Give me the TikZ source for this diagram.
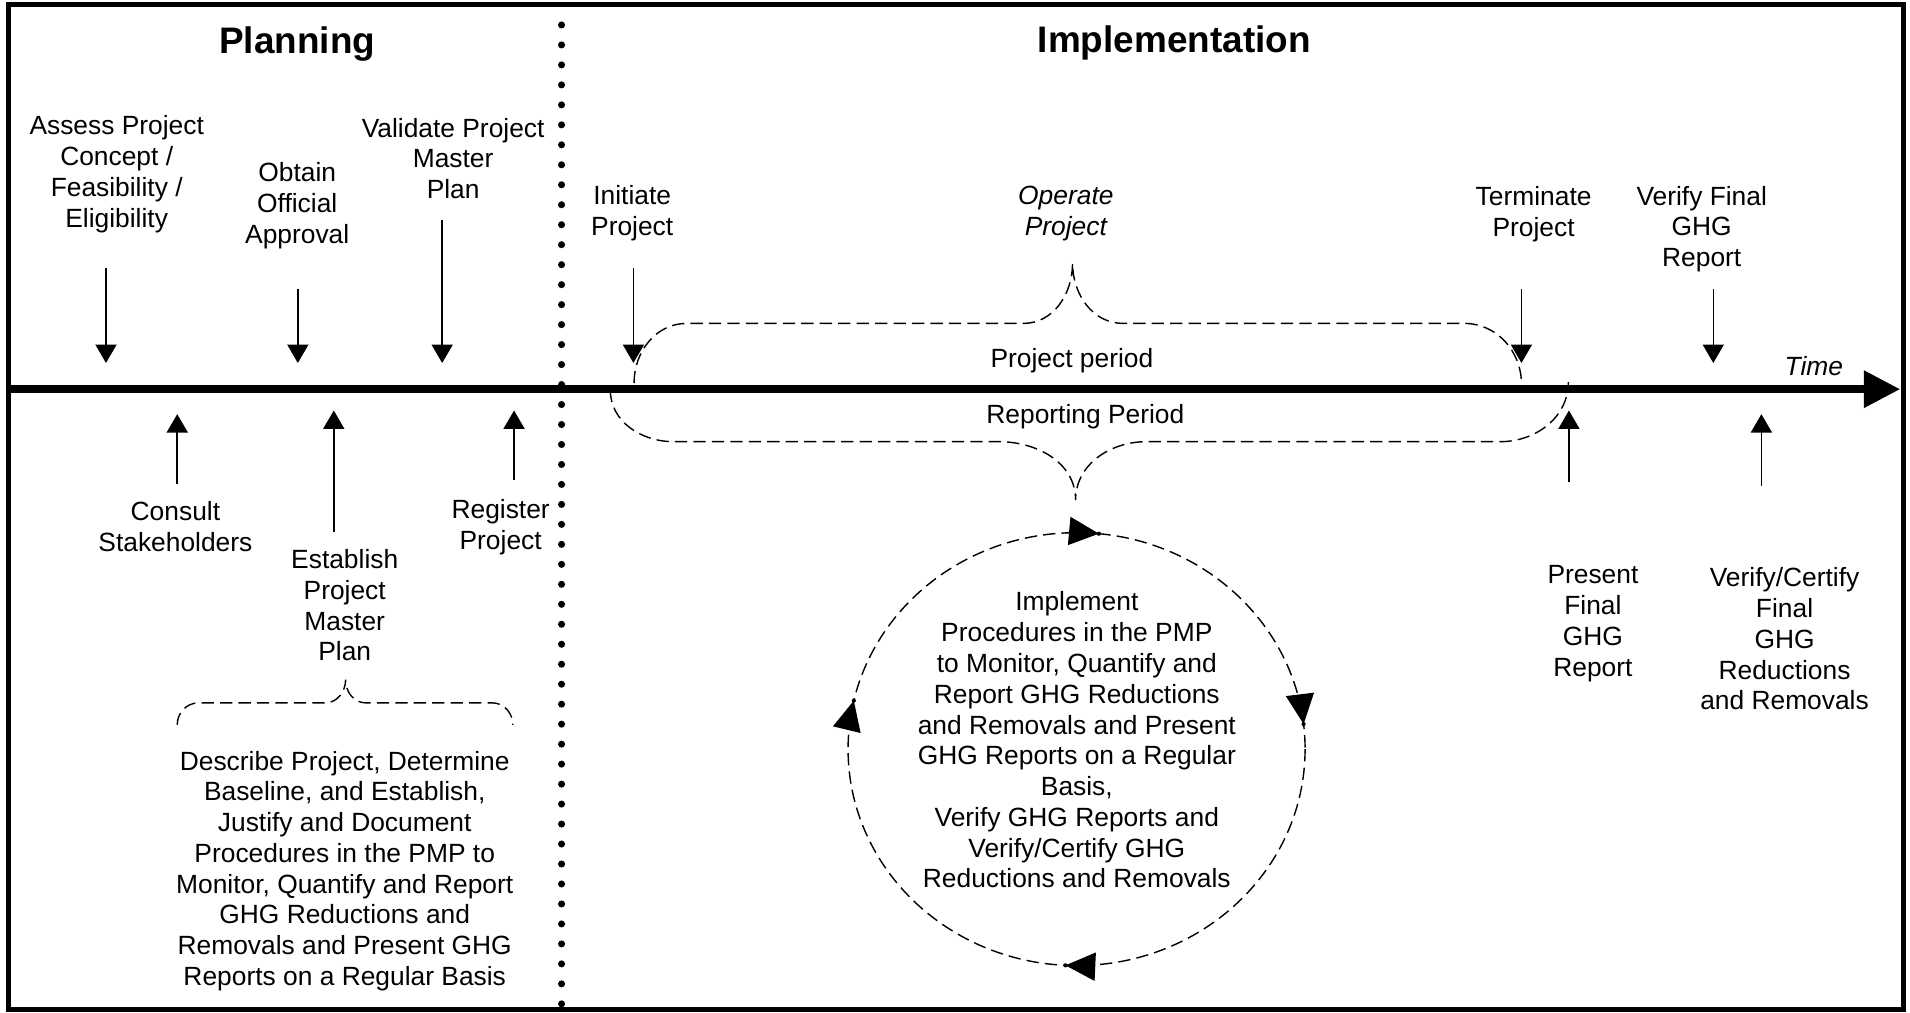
\documentclass[tikz,border=0pt]{standalone}
\usepackage{fontspec}
\setmainfont{Liberation Sans}
\usetikzlibrary{arrows.meta, decorations.markings}

\begin{document}
\begin{tikzpicture}[x=0.02436cm, y=0.02436cm,
    txt/.style={align=center, inner sep=0pt, font=\fontsize{15}{17.5}\selectfont},
    ttl/.style={inner sep=0pt, font=\fontsize{21}{25}\selectfont\bfseries},
    evt/.style={line width=0.9pt, -{Triangle[length=10.5pt, width=12pt]}},
    dashline/.style={line width=0.8pt, dash pattern=on 7pt off 3.5pt}]
  \useasboundingbox (0,0) rectangle (1568,831);
  \draw[line width=2.8pt] (7,2.5) rectangle (1563,827);

  \foreach \i in {0,...,49} {
    \fill (461,810.5-16.4*\i) circle[radius=2.9];
  }

  \coordinate (t0) at (5,511.5);
  \coordinate (t1) at (1560,511.5);
  \draw[line width=4.7pt, -{Triangle[length=20.7pt, width=20.1pt]}] (t0) -- (t1);

  \node[ttl] (planning) at (244,794.7) {Planning};
  \node[ttl] (implementation) at (964,795.4) {Implementation};

  \node[txt] (assess) at (95.8,688) {Assess Project\\Concept /\\Feasibility /\\Eligibility};
  \node[txt] (obtain) at (244,662) {Obtain\\Official\\Approval};
  \node[txt] (validate) at (372,701) {Validate Project\\Master\\Plan};
  \node[txt] (consult) at (144,398.4) {Consult\\Stakeholders};
  \node[txt] (establish) at (283,334) {Establish\\Project\\Master\\Plan};
  \node[txt] (register) at (411,398.4) {Register\\Project};
  \node[txt] (describe) at (283,116) {Describe Project, Determine\\Baseline, and Establish,\\Justify and Document\\Procedures in the PMP to\\Monitor, Quantify and Report\\GHG Reductions and\\Removals and Present GHG\\Reports on a Regular Basis};

  \node[txt] (initiate) at (519,656) {Initiate\\Project};
  \node[txt, font=\fontsize{15}{17.5}\selectfont\itshape] (operate) at (875,656) {Operate\\Project};
  \node[txt] (projper) at (880,534.7) {Project period};
  \node[txt] (repper) at (891,489) {Reporting Period};
  \node[txt] (terminate) at (1259,655.3) {Terminate\\Project};
  \node[txt] (verfinal) at (1397,643) {Verify Final\\GHG\\Report};
  \node[txt, font=\fontsize{15}{17.5}\selectfont\itshape] (time) at (1489,530.5) {Time};
  \node[txt] (present) at (1307.7,319) {Present\\Final\\GHG\\Report};
  \node[txt] (vercert) at (1465,306.5) {Verify/Certify\\Final\\GHG\\Reductions\\and Removals};
  \node[txt] (cycletxt) at (884,223.5) {Implement\\Procedures in the PMP\\to Monitor, Quantify and\\Report GHG Reductions\\and Removals and Present\\GHG Reports on a Regular\\Basis,\\Verify GHG Reports and\\Verify/Certify GHG\\Reductions and Removals};

  \foreach \n/\x/\ya/\yb in {as/87/611/533, ob/244.5/594/533, va/363/650/533,
      in/520/611/533, te/1249/593.5/533, vf/1406.5/593.5/533,
      co/145.5/434/491, es/274/394/494, re/422/437/494,
      pr/1288/435/494, vc/1446/432/491} {
    \coordinate (\n-from) at (\x,\ya);
    \coordinate (\n-to) at (\x,\yb);
    \draw[evt] (\n-from) -- (\n-to);
  }

  \draw[dashline] (145.5,236) to[out=90,in=180] (163,254) -- (267,254)
    to[out=0,in=-90] (283.7,273) to[out=-90,in=180] (300,254) -- (404,254)
    to[out=0,in=90] (421,236);
  \draw[dashline] (520.5,516.4) to[out=90,in=180] (563.8,565.5) -- (840,565.5)
    to[out=0,in=-90] (880.5,615) to[out=-90,in=180] (922,565.5) -- (1202,565.5)
    to[out=0,in=90] (1249,516);
  \draw[dashline] (501,511) to[out=-90,in=180] (553,468.4) -- (820,468.4)
    to[out=0,in=90] (883,420.5) to[out=90,in=180] (941,468.4) -- (1231.6,468.4)
    to[out=0,in=-90] (1287.5,517.2);

  \coordinate (ringc) at (883.8,216);
  \draw[dashline, postaction={decorate}, decoration={markings,
      mark=at position 0.258 with {\arrow{Triangle[length=17pt, width=16pt]}; \fill (0,0) circle[radius=1.2pt];},
      mark=at position 0.535 with {\arrow{Triangle[length=17pt, width=16pt]}; \fill (0,0) circle[radius=1.2pt];},
      mark=at position 0.766 with {\arrow{Triangle[length=17pt, width=16pt]}; \fill (0,0) circle[radius=1.2pt];},
      mark=at position 0.982 with {\arrow{Triangle[length=17pt, width=16pt]}; \fill (0,0) circle[radius=1.2pt];}}]
    (ringc) ++(187.6,0) arc[start angle=360, end angle=0, x radius=187.6, y radius=177.7];
\end{tikzpicture}
\end{document}
